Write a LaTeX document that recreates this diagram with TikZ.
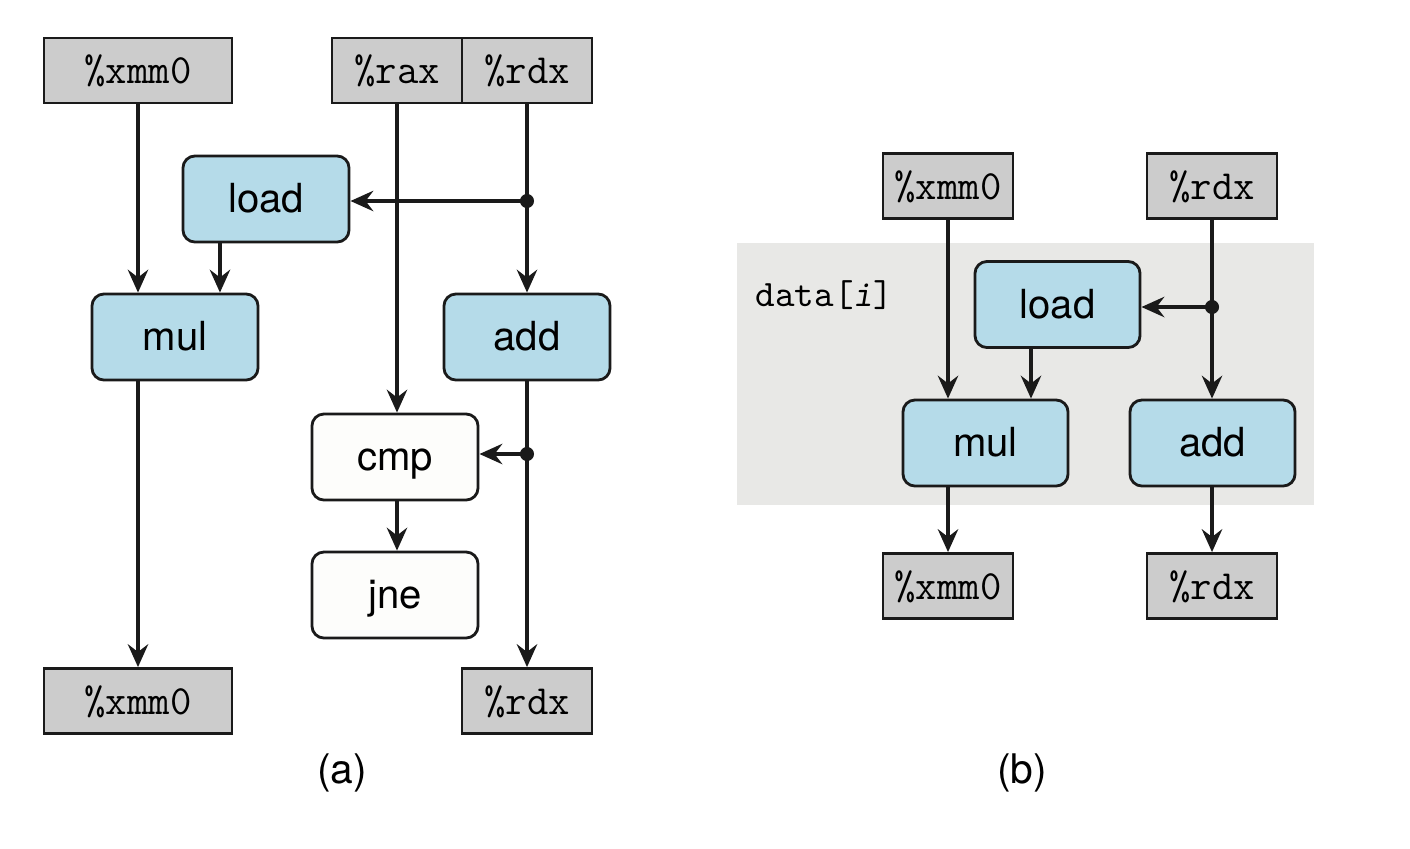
\documentclass[tikz,border=0pt]{standalone}
\usepackage{fontspec}
\setmainfont{TeX Gyre Heros}
\usetikzlibrary{arrows.meta,calc}
\definecolor{opblue}{HTML}{B5DBE9}
\definecolor{reggray}{HTML}{CCCCCC}
\definecolor{bggray}{HTML}{E8E8E6}
\definecolor{ink}{HTML}{1A1A1A}
\definecolor{offwhite}{HTML}{FDFDFB}
\begin{document}
\begin{tikzpicture}[x=0.01cm,y=-0.01cm,
  reg/.style={draw=ink,line width=0.8pt,fill=reggray,minimum height=0.65cm,inner sep=0pt,
    text height=7.4pt,text depth=0pt,font=\fontsize{11.8}{13}\selectfont\ttfamily},
  op/.style={draw=ink,line width=0.8pt,fill=opblue,rounded corners=0.12cm,minimum width=1.66cm,minimum height=0.86cm,inner sep=0pt,
    text height=7.8pt,text depth=0pt,font=\fontsize{11.4}{13}\selectfont},
  ctl/.style={op,fill=offwhite},
  captxt/.style={font=\fontsize{11.6}{13}\selectfont},
  arr/.style={draw=ink,line width=1pt,-{Stealth[length=6.5pt,width=5.8pt,inset=2.2pt]}},
  dot/.style={fill=ink}]
\useasboundingbox (0,0) rectangle (1410,848);
% ---------- (a) ----------
\node[reg,minimum width=1.88cm] (xa) at (138,70.5) {\%xmm0};
\node[reg,minimum width=1.30cm] (raxa) at (397,70.5) {\%rax};
\node[reg,minimum width=1.30cm] (rdxa) at (527,70.5) {\%rdx};
\node[op] (loada) at (266,199) {load};
\node[op] (mula) at (175,337) {mul};
\node[op] (adda) at (527,337) {add};
\node[ctl] (cmpa) at (395,457) {cmp};
\node[ctl] (jnea) at (395,595) {jne};
\node[reg,minimum width=1.88cm] (xao) at (138,701) {\%xmm0};
\node[reg,minimum width=1.30cm] (rdxao) at (527,701) {\%rdx};
\node[captxt] (capa) at (342,773) {(a)};
\draw[arr] (xa.south) -- (xa.south |- mula.north);
\draw[arr] ([xshift=-0.46cm]loada.south) -- ([xshift=-0.46cm]loada.south |- mula.north);
\draw[arr] (rdxa.south) -- (adda.north);
\coordinate (da1) at (rdxa.south |- 0,201);
\draw[arr] (da1) -- (loada.east |- da1);
\fill[dot] (da1) circle (2pt);
\draw[arr] (raxa.south) -- (raxa.south |- cmpa.north);
\draw[arr] (adda.south) -- (rdxao.north);
\coordinate (da2) at (adda.south |- 0,454);
\draw[arr] (da2) -- (cmpa.east |- da2);
\fill[dot] (da2) circle (2pt);
\draw[arr] (cmpa.south -| raxa.south) -- (jnea.north -| raxa.south);
\draw[arr] (xa.south |- mula.south) -- (xao.north);
% ---------- (b) ----------
\fill[bggray] (737,243) rectangle (1314,505);
\node[anchor=base west,inner sep=0pt,font=\fontsize{10.6}{12}\selectfont\ttfamily] (datab) at (755,306) {data[\textsl{i}]};
\node[reg,minimum width=1.30cm] (xb) at (948,186) {\%xmm0};
\node[reg,minimum width=1.30cm] (rdxb) at (1212,186) {\%rdx};
\node[op,minimum width=1.65cm] (loadb) at (1057.5,304.5) {load};
\node[op,minimum width=1.65cm] (mulb) at (985.5,443) {mul};
\node[op,minimum width=1.65cm] (addb) at (1212.5,443) {add};
\node[reg,minimum width=1.30cm] (xbo) at (948,586) {\%xmm0};
\node[reg,minimum width=1.30cm] (rdxbo) at (1212,586) {\%rdx};
\node[captxt] (capb) at (1022,773) {(b)};
\draw[arr] (xb.south) -- (xb.south |- mulb.north);
\draw[arr] ([xshift=-0.265cm]loadb.south) -- ([xshift=-0.265cm]loadb.south |- mulb.north);
\draw[arr] (rdxb.south) -- (rdxb.south |- addb.north);
\coordinate (db1) at (rdxb.south |- 0,307);
\draw[arr] (db1) -- (loadb.east |- db1);
\fill[dot] (db1) circle (2pt);
\draw[arr] (xb.south |- mulb.south) -- (xbo.north);
\draw[arr] (rdxb.south |- addb.south) -- (rdxbo.north);
\end{tikzpicture}
\end{document}
